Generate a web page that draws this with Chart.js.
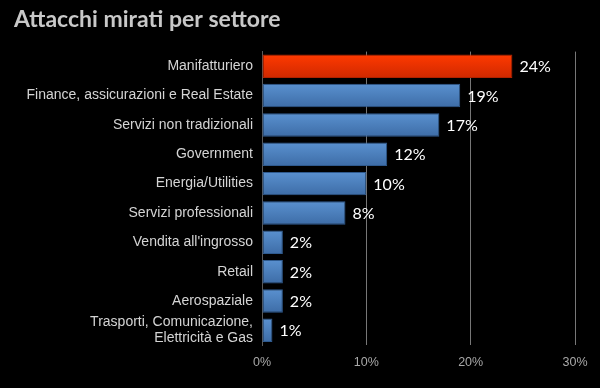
<!DOCTYPE html>
<html>
<head>
<meta charset="utf-8">
<script src="https://cdn.jsdelivr.net/npm/chart.js@4.4.1/dist/chart.umd.min.js"></script>
<style>
  html, body { margin: 0; padding: 0; background: #000; }
  #wrap { width: 600px; height: 388px; }
</style>
</head>
<body>
<div id="wrap"><canvas id="chart" width="600" height="388"></canvas></div>
<script>
const sectors = [
  'Manifatturiero',
  'Finance, assicurazioni e Real Estate',
  'Servizi non tradizionali',
  'Government',
  'Energia/Utilities',
  'Servizi professionali',
  "Vendita all'ingrosso",
  'Retail',
  'Aerospaziale',
  ['Trasporti, Comunicazione,', 'Elettricità e Gas'],
];
const shares = [24, 19, 17, 12, 10, 8, 2, 2, 2, 1];
const xTicks = [0, 10, 20, 30];

// first bar highlighted in red, the rest blue
function barFill(context) {
  const chart = context.chart;
  const y = chart.scales.y;
  const red = context.dataIndex === 0;
  const flat = red ? '#f33000' : '#4a7fbf';
  if (!y || context.dataIndex === undefined) return flat;
  const c = y.getPixelForValue(context.dataIndex);
  if (!Number.isFinite(c)) return flat;
  const g = chart.ctx.createLinearGradient(0, c - 12, 0, c + 12);
  if (red) {
    g.addColorStop(0, '#ff3a00');
    g.addColorStop(1, '#cf2800');
  } else {
    g.addColorStop(0, '#5a91d0');
    g.addColorStop(1, '#3d6ca6');
  }
  return g;
}

const valueLabels = {
  id: 'valueLabels',
  afterDatasetsDraw(chart) {
    const ctx = chart.ctx;
    const meta = chart.getDatasetMeta(0);
    ctx.save();
    ctx.fillStyle = '#ffffff';
    ctx.font = '16px Lato';
    ctx.textBaseline = 'middle';
    meta.data.forEach((bar, i) => {
      ctx.fillText(shares[i] + '%', bar.x + 7, bar.y + 1);
    });
    ctx.restore();
  },
};

new Chart(document.getElementById('chart'), {
  type: 'bar',
  data: {
    labels: sectors,
    datasets: [{
      data: shares,
      backgroundColor: barFill,
      borderColor: (c) => (c.dataIndex === 0 ? '#b02200' : '#2f5a8e'),
      borderWidth: 1,
      borderSkipped: false,
      barPercentage: 0.8,
      categoryPercentage: 1,
    }],
  },
  options: {
    indexAxis: 'y',
    responsive: false,
    animation: false,
    layout: { padding: { left: 14, right: 25, top: 0, bottom: 8 } },
    plugins: {
      legend: { display: false },
      tooltip: { enabled: false },
      title: {
        display: true,
        text: 'Attacchi mirati per settore',
        align: 'start',
        color: '#c8c8c8',
        font: { family: 'Lato', size: 23, weight: 'bold' },
        padding: { top: 6, bottom: 18 },
      },
    },
    scales: {
      x: {
        min: 0,
        max: 30,
        afterBuildTicks: (s) => { s.ticks = xTicks.map((v) => ({ value: v })); },
        grid: { color: '#777777', drawTicks: false },
        border: { display: false },
        ticks: {
          color: '#a8a8a8',
          padding: 10,
          font: { family: 'Liberation Sans', size: 12.5 },
          callback: (v) => v + '%',
        },
      },
      y: {
        afterFit: (s) => { s.width = 248; },
        grid: { display: false, drawTicks: false },
        border: { display: true, color: '#5a5a5a' },
        ticks: {
          autoSkip: false,
          color: '#d4d4d4',
          padding: 9,
          font: { family: 'Liberation Sans', size: 14, lineHeight: 1.1 },
        },
      },
    },
  },
  plugins: [valueLabels],
});
</script>
</body>
</html>
